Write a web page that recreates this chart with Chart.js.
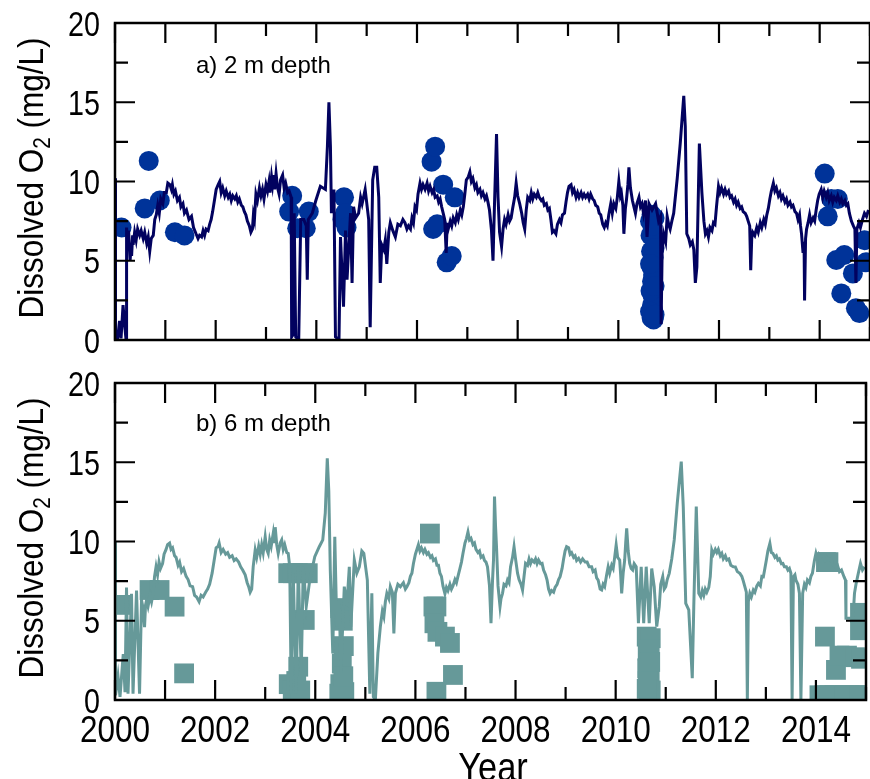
<!DOCTYPE html>
<html>
<head>
<meta charset="utf-8">
<script src="https://cdn.jsdelivr.net/npm/chart.js@4.4.1/dist/chart.umd.min.js"></script>
<style>
html, body { margin: 0; padding: 0; background: #fff; overflow: hidden; width: 870px; height: 779px; }
#top { position: absolute; left: 0; top: 0; }
#bot { position: absolute; left: 0; top: 360px; }
</style>
</head>
<body>
<canvas id="top" width="880" height="360"></canvas>
<canvas id="bot" width="880" height="419"></canvas>
<script>
const xTicks = [2000, 2002, 2004, 2006, 2008, 2010, 2012, 2014];
const yTicks = [0, 5, 10, 15, 20];

// 2 m depth, continuous record [year, mg/L]
const line2m = [
  [2000.00,10.2],[2000.01,0.3],[2000.05,0.0],[2000.09,1.2],[2000.12,0.1],[2000.16,2.2],[2000.19,1.0],[2000.22,0.0],
  [2000.23,7.1],[2000.25,5.8],[2000.27,6.9],[2000.30,5.0],[2000.32,5.9],[2000.33,5.3],[2000.35,6.6],[2000.36,6.0],
  [2000.39,6.8],[2000.42,6.3],[2000.45,7.0],[2000.49,6.6],[2000.52,6.9],[2000.56,6.4],[2000.59,6.8],[2000.63,6.1],
  [2000.66,6.5],[2000.69,5.6],[2000.72,6.4],[2000.76,6.6],[2000.79,7.6],[2000.82,7.9],[2000.85,8.5],[2000.88,8.0],
  [2000.91,8.9],[2000.95,8.6],[2000.98,9.3],[2001.02,9.3],[2001.05,9.9],[2001.09,9.8],[2001.12,9.5],[2001.14,9.8],
  [2001.17,9.2],[2001.20,9.4],[2001.24,8.8],[2001.28,9.0],[2001.31,8.4],[2001.35,8.6],[2001.38,8.0],[2001.42,8.2],
  [2001.47,7.6],[2001.52,7.8],[2001.56,7.1],[2001.61,6.7],[2001.65,6.4],[2001.68,6.6],[2001.72,6.5],[2001.75,6.9],
  [2001.78,6.6],[2001.81,7.0],[2001.85,6.9],[2001.88,7.3],[2001.91,7.6],[2001.94,8.1],[2001.98,8.9],[2002.01,9.5],
  [2002.05,9.8],[2002.08,10.0],[2002.11,9.3],[2002.14,9.6],[2002.18,9.1],[2002.21,9.4],[2002.25,9.0],[2002.28,9.2],
  [2002.31,8.8],[2002.34,9.1],[2002.38,8.9],[2002.41,9.1],[2002.44,8.7],[2002.47,8.9],[2002.51,8.5],[2002.54,8.4],
  [2002.57,8.1],[2002.60,7.9],[2002.63,7.5],[2002.67,7.2],[2002.70,6.8],[2002.73,7.0],[2002.75,7.9],[2002.77,7.6],
  [2002.80,9.2],[2002.83,8.8],[2002.87,9.6],[2002.90,9.1],[2002.93,9.5],[2002.96,8.9],[2003.00,9.8],[2003.03,9.4],
  [2003.06,10.0],[2003.08,9.3],[2003.11,10.3],[2003.13,9.8],[2003.15,10.4],[2003.17,9.5],[2003.20,10.5],[2003.23,9.6],
  [2003.26,9.2],[2003.29,10.1],[2003.33,10.4],[2003.36,9.6],[2003.39,9.9],[2003.43,9.3],[2003.46,9.4],[2003.50,9.0],
  [2003.51,0.2],[2003.53,0.3],[2003.56,8.0],[2003.59,0.2],[2003.65,0.0],[2003.69,7.6],[2003.75,7.6],[2003.80,7.2],
  [2003.82,3.8],[2003.84,7.6],[2003.92,8.0],[2003.99,8.8],[2004.08,9.7],[2004.18,9.5],[2004.22,12.2],[2004.25,15.0],
  [2004.28,12.2],[2004.30,8.0],[2004.35,9.5],[2004.38,0.2],[2004.45,0.0],[2004.48,6.5],[2004.54,2.1],[2004.58,6.9],
  [2004.61,3.8],[2004.68,8.0],[2004.71,3.6],[2004.74,8.4],[2004.78,7.7],[2004.84,8.0],[2004.88,9.0],[2004.91,8.6],
  [2004.97,9.5],[2005.04,7.6],[2005.07,0.8],[2005.12,10.1],[2005.16,10.9],[2005.20,10.9],[2005.24,9.0],[2005.27,3.6],
  [2005.30,6.0],[2005.34,5.7],[2005.37,6.3],[2005.40,4.8],[2005.44,6.8],[2005.47,7.4],[2005.52,6.9],[2005.57,6.5],
  [2005.62,7.3],[2005.67,7.2],[2005.72,7.6],[2005.76,7.4],[2005.80,7.0],[2005.83,7.2],[2005.87,7.0],[2005.90,7.7],
  [2005.93,7.4],[2005.96,8.4],[2005.99,8.2],[2006.02,9.2],[2006.06,9.9],[2006.09,9.5],[2006.12,9.8],[2006.16,9.5],
  [2006.20,9.9],[2006.23,9.4],[2006.26,9.7],[2006.30,9.3],[2006.33,9.5],[2006.36,9.0],[2006.40,9.1],[2006.43,8.7],
  [2006.46,8.9],[2006.49,8.4],[2006.52,8.0],[2006.55,7.6],[2006.58,5.5],[2006.60,7.4],[2006.62,7.0],[2006.66,7.5],
  [2006.69,7.2],[2006.72,7.7],[2006.76,7.4],[2006.79,7.9],[2006.82,7.6],[2006.86,8.2],[2006.89,7.9],[2006.92,8.4],
  [2006.95,9.2],[2006.98,10.1],[2007.02,10.3],[2007.05,10.6],[2007.08,10.0],[2007.11,10.2],[2007.15,9.6],[2007.18,9.8],
  [2007.21,9.3],[2007.25,9.5],[2007.28,9.1],[2007.31,9.3],[2007.35,8.9],[2007.38,9.1],[2007.41,8.7],[2007.44,8.2],
  [2007.48,6.9],[2007.51,5.0],[2007.54,8.6],[2007.58,13.0],[2007.61,9.0],[2007.64,6.8],[2007.68,5.9],[2007.71,7.0],
  [2007.74,7.6],[2007.77,7.3],[2007.81,7.9],[2007.84,7.5],[2007.87,7.7],[2007.90,8.3],[2007.94,9.0],[2007.97,9.9],
  [2008.00,9.1],[2008.04,8.6],[2008.08,8.0],[2008.11,7.4],[2008.14,7.0],[2008.17,8.2],[2008.20,9.0],[2008.24,8.8],
  [2008.27,9.3],[2008.30,8.9],[2008.33,9.2],[2008.37,9.0],[2008.40,9.3],[2008.43,9.0],[2008.47,8.8],[2008.50,8.9],
  [2008.53,8.5],[2008.57,8.6],[2008.60,8.2],[2008.63,8.3],[2008.66,7.6],[2008.69,6.8],[2008.72,6.9],[2008.76,6.7],
  [2008.79,7.3],[2008.83,7.6],[2008.86,7.4],[2008.89,7.9],[2008.93,8.0],[2008.96,8.7],[2008.99,9.3],[2009.02,9.7],
  [2009.06,9.8],[2009.09,9.3],[2009.12,9.5],[2009.16,9.0],[2009.19,9.3],[2009.22,9.0],[2009.26,9.3],[2009.29,9.0],
  [2009.32,9.2],[2009.35,9.0],[2009.39,9.2],[2009.42,8.9],[2009.45,9.2],[2009.49,8.9],[2009.52,8.8],[2009.55,8.5],
  [2009.59,8.4],[2009.62,8.0],[2009.65,7.9],[2009.69,7.3],[2009.72,7.1],[2009.75,7.4],[2009.78,7.2],[2009.81,7.9],
  [2009.85,8.6],[2009.88,8.0],[2009.91,8.6],[2009.95,8.3],[2009.98,9.0],[2010.01,10.0],[2010.04,9.1],[2010.06,9.3],
  [2010.09,8.5],[2010.11,6.7],[2010.14,8.3],[2010.16,8.8],[2010.19,9.8],[2010.21,10.9],[2010.24,9.6],[2010.28,8.8],
  [2010.31,8.4],[2010.34,8.0],[2010.37,8.6],[2010.41,9.0],[2010.44,8.4],[2010.47,8.6],[2010.50,8.0],[2010.54,8.8],
  [2010.57,6.5],[2010.61,8.6],[2010.67,8.2],[2010.74,8.6],[2010.80,7.5],[2010.84,7.8],[2010.85,1.0],[2010.87,5.5],
  [2010.90,6.7],[2010.94,6.2],[2010.97,7.8],[2011.00,7.3],[2011.03,7.0],[2011.07,7.6],[2011.10,8.0],[2011.17,10.2],
  [2011.23,12.4],[2011.30,15.4],[2011.33,13.5],[2011.36,6.7],[2011.40,6.4],[2011.43,6.0],[2011.47,6.2],[2011.50,5.7],
  [2011.53,3.6],[2011.56,4.6],[2011.61,12.4],[2011.66,9.3],[2011.70,7.5],[2011.73,6.7],[2011.76,6.9],[2011.79,6.5],
  [2011.82,7.1],[2011.86,6.9],[2011.89,7.4],[2011.92,7.3],[2011.95,8.4],[2011.99,9.7],[2012.02,9.3],[2012.05,9.6],
  [2012.09,9.2],[2012.12,9.5],[2012.15,9.2],[2012.19,9.4],[2012.22,9.0],[2012.25,9.1],[2012.29,8.7],[2012.32,8.9],
  [2012.35,8.5],[2012.38,8.7],[2012.42,8.3],[2012.45,8.4],[2012.48,8.1],[2012.52,8.0],[2012.55,7.8],[2012.58,7.5],
  [2012.61,7.2],[2012.63,4.4],[2012.65,6.4],[2012.67,6.8],[2012.71,6.6],[2012.75,7.1],[2012.78,6.8],[2012.82,7.4],
  [2012.85,7.1],[2012.89,7.6],[2012.92,7.3],[2012.95,7.9],[2012.98,8.3],[2013.01,8.9],[2013.04,9.4],[2013.08,9.9],
  [2013.11,9.4],[2013.14,9.6],[2013.18,9.1],[2013.21,9.3],[2013.24,8.9],[2013.27,9.1],[2013.31,8.7],[2013.34,8.9],
  [2013.37,8.5],[2013.41,8.7],[2013.44,8.4],[2013.47,8.5],[2013.51,8.1],[2013.54,8.0],[2013.57,7.6],[2013.60,7.9],
  [2013.62,7.2],[2013.64,6.7],[2013.67,5.5],[2013.69,6.2],[2013.70,2.5],[2013.72,6.4],[2013.74,7.0],[2013.77,7.4],
  [2013.80,7.9],[2013.83,7.4],[2013.87,7.7],[2013.90,7.5],[2013.93,8.2],[2013.96,8.8],[2013.99,9.2],[2014.03,9.5],
  [2014.06,9.0],[2014.09,9.4],[2014.13,9.0],[2014.16,9.3],[2014.19,8.8],[2014.23,9.1],[2014.26,8.7],[2014.29,9.0],
  [2014.33,8.8],[2014.36,9.1],[2014.40,8.7],[2014.43,8.9],[2014.46,8.6],[2014.50,8.8],[2014.53,8.5],[2014.56,8.6],
  [2014.59,8.0],[2014.63,7.5],[2014.67,7.2],[2014.70,7.0],[2014.72,3.6],[2014.74,7.0],[2014.78,7.4],[2014.81,7.1],
  [2014.85,7.6],[2014.89,8.0],[2014.93,7.8],[2014.97,8.2]
];

// 2 m depth, discrete profile samples
const circles2m = [
  [2000.13,7.1],[2000.59,8.3],[2000.67,11.3],[2000.89,8.8],[2001.19,6.8],[2001.38,6.6],
  [2003.46,8.1],[2003.52,9.1],[2003.62,7.05],[2003.79,7.05],[2003.85,8.1],
  [2004.52,7.6],[2004.55,9.0],[2004.57,8.0],[2004.60,7.1],
  [2006.29,11.25],[2006.36,12.2],[2006.32,7.0],[2006.40,7.3],[2006.52,9.8],[2006.75,9.0],[2006.59,4.9],[2006.69,5.3],
  [2010.63,7.5],[2010.64,6.6],[2010.65,5.6],[2010.66,4.6],[2010.67,3.7],[2010.68,2.8],[2010.69,1.9],[2010.70,1.3],
  [2010.72,7.7],[2010.71,6.4],[2010.70,5.2],[2010.69,4.1],[2010.67,2.2],[2010.66,1.4],[2010.64,3.1],[2010.63,1.8],
  [2010.66,7.9],[2010.72,3.4],[2010.72,5.8],[2010.63,4.8],[2010.72,1.6],[2010.68,7.2],
  [2014.10,10.5],[2014.16,7.8],[2014.23,8.9],[2014.36,8.9],[2014.33,5.05],[2014.49,5.36],[2014.43,2.94],
  [2014.66,4.2],[2014.72,2.0],[2014.79,1.7],[2014.89,6.3],[2014.92,4.9]
];

// 6 m depth, continuous record
const line6m = [
  [2000.00,10.0],[2000.01,0.3],[2000.06,1.5],[2000.10,0.2],[2000.165,2.9],[2000.20,0.5],[2000.23,7.1],[2000.26,0.4],
  [2000.33,6.7],[2000.36,0.4],[2000.43,6.9],[2000.49,0.4],[2000.53,6.3],[2000.56,5.8],[2000.59,4.6],[2000.61,6.0],
  [2000.63,6.3],[2000.66,5.9],[2000.70,6.6],[2000.73,6.2],[2000.76,6.7],[2000.79,7.8],[2000.82,8.4],[2000.85,7.9],
  [2000.88,8.7],[2000.91,8.3],[2000.95,8.6],[2000.98,9.2],[2001.02,9.5],[2001.05,9.8],[2001.09,9.9],[2001.12,9.5],
  [2001.15,9.6],[2001.19,9.1],[2001.22,9.0],[2001.26,8.5],[2001.29,8.7],[2001.33,8.1],[2001.37,8.3],[2001.42,7.8],
  [2001.46,7.6],[2001.50,7.2],[2001.55,7.15],[2001.59,6.6],[2001.63,6.5],[2001.68,6.2],[2001.72,6.6],[2001.76,6.5],
  [2001.81,6.8],[2001.85,7.0],[2001.89,7.3],[2001.94,8.0],[2001.98,8.8],[2002.02,9.6],[2002.06,9.7],[2002.08,9.9],
  [2002.12,9.3],[2002.16,9.5],[2002.21,9.2],[2002.25,9.3],[2002.29,9.0],[2002.34,9.1],[2002.38,8.8],[2002.42,8.9],
  [2002.47,8.7],[2002.51,8.4],[2002.55,8.2],[2002.60,7.9],[2002.64,7.4],[2002.67,7.15],[2002.70,6.8],[2002.73,7.0],
  [2002.76,8.4],[2002.80,9.46],[2002.83,9.0],[2002.87,9.7],[2002.90,9.2],[2002.93,9.8],[2002.96,9.3],[2003.00,10.3],
  [2003.03,9.5],[2003.06,9.25],[2003.09,10.1],[2003.12,9.7],[2003.16,10.5],[2003.18,9.9],[2003.20,10.9],[2003.23,9.8],
  [2003.26,9.25],[2003.30,9.9],[2003.33,10.1],[2003.36,9.5],[2003.39,9.8],[2003.43,9.3],[2003.46,9.25],[2003.49,8.4],
  [2003.52,0.4],[2003.56,8.0],[2003.62,0.4],[2003.66,8.4],[2003.72,1.7],[2003.76,8.4],[2003.82,5.9],[2003.89,7.57],
  [2003.99,9.04],[2004.08,9.67],[2004.15,10.1],[2004.20,11.8],[2004.24,15.25],[2004.27,13.2],[2004.30,8.2],[2004.35,2.94],
  [2004.39,10.3],[2004.43,4.63],[2004.48,6.3],[2004.51,1.7],[2004.58,7.15],[2004.63,5.9],[2004.68,8.4],[2004.71,4.63],
  [2004.78,8.83],[2004.83,8.0],[2004.88,8.4],[2004.93,9.4],[2004.97,9.25],[2005.04,7.57],[2005.09,0.4],[2005.13,6.73],
  [2005.16,0.2],[2005.20,0.0],[2005.25,2.94],[2005.30,4.63],[2005.34,5.6],[2005.37,5.26],[2005.40,6.2],[2005.43,6.73],
  [2005.47,6.4],[2005.50,7.15],[2005.54,6.8],[2005.57,4.2],[2005.60,6.73],[2005.65,7.3],[2005.70,7.15],[2005.76,7.4],
  [2005.80,7.0],[2005.83,7.15],[2005.87,7.4],[2005.90,7.8],[2005.93,8.0],[2005.96,8.6],[2006.00,9.2],[2006.03,9.5],
  [2006.06,9.8],[2006.09,9.4],[2006.12,9.6],[2006.16,9.3],[2006.19,9.5],[2006.23,9.2],[2006.26,9.3],[2006.30,9.0],
  [2006.33,9.1],[2006.36,8.8],[2006.40,8.9],[2006.43,8.5],[2006.46,8.5],[2006.49,8.0],[2006.52,7.8],[2006.55,7.2],
  [2006.59,6.7],[2006.62,7.1],[2006.65,6.9],[2006.69,7.3],[2006.72,7.0],[2006.75,7.2],[2006.79,7.6],[2006.82,7.4],
  [2006.85,7.8],[2006.89,8.3],[2006.92,8.7],[2006.95,9.25],[2006.99,9.9],[2007.02,10.2],[2007.05,10.6],[2007.08,10.1],
  [2007.11,10.2],[2007.15,9.8],[2007.18,9.9],[2007.21,9.5],[2007.25,9.3],[2007.28,9.4],[2007.31,9.0],[2007.35,9.1],
  [2007.38,8.8],[2007.41,8.7],[2007.44,8.4],[2007.48,7.2],[2007.51,4.84],[2007.54,7.5],[2007.56,8.83],[2007.58,12.83],
  [2007.60,11.0],[2007.62,9.67],[2007.65,7.2],[2007.69,5.9],[2007.71,6.4],[2007.74,6.73],[2007.77,7.3],[2007.81,7.2],
  [2007.84,7.57],[2007.87,7.4],[2007.90,8.4],[2007.94,9.0],[2007.97,9.67],[2008.00,8.9],[2008.04,8.0],[2008.07,7.6],
  [2008.11,7.3],[2008.14,6.94],[2008.17,7.8],[2008.20,8.62],[2008.24,8.5],[2008.27,8.9],[2008.30,8.6],[2008.33,8.83],
  [2008.37,8.7],[2008.40,8.9],[2008.43,8.6],[2008.46,8.83],[2008.50,8.6],[2008.53,8.62],[2008.56,8.2],[2008.60,7.9],
  [2008.63,7.57],[2008.66,7.0],[2008.69,6.73],[2008.72,6.9],[2008.76,6.8],[2008.79,7.1],[2008.83,7.3],[2008.86,7.6],
  [2008.89,7.78],[2008.93,8.3],[2008.96,8.9],[2008.99,9.4],[2009.02,9.67],[2009.06,9.6],[2009.09,9.2],[2009.12,9.3],
  [2009.16,9.0],[2009.19,9.1],[2009.22,8.8],[2009.26,8.94],[2009.30,8.7],[2009.34,8.9],[2009.39,8.7],[2009.43,8.7],
  [2009.47,8.4],[2009.52,8.4],[2009.55,8.1],[2009.59,8.2],[2009.62,7.7],[2009.65,7.57],[2009.69,7.0],[2009.72,6.94],
  [2009.75,7.3],[2009.78,7.15],[2009.82,7.9],[2009.85,8.4],[2009.88,8.0],[2009.92,8.5],[2009.95,8.3],[2009.98,9.0],
  [2010.01,9.78],[2010.04,9.0],[2010.08,8.83],[2010.10,7.9],[2010.12,6.73],[2010.15,8.0],[2010.18,8.83],[2010.20,9.9],
  [2010.22,10.83],[2010.25,9.4],[2010.28,8.62],[2010.31,8.3],[2010.34,8.2],[2010.37,8.6],[2010.41,8.41],[2010.455,4.84],
  [2010.51,8.41],[2010.56,4.84],[2010.61,8.41],[2010.67,4.84],[2010.72,8.3],[2010.77,7.15],[2010.82,4.63],[2010.87,5.89],
  [2010.90,7.3],[2010.94,7.78],[2010.97,7.0],[2011.00,7.15],[2011.03,7.6],[2011.07,7.99],[2011.12,8.9],[2011.17,10.1],
  [2011.23,12.4],[2011.31,15.04],[2011.35,12.2],[2011.40,6.1],[2011.46,5.68],[2011.53,1.37],[2011.56,5.89],[2011.61,12.2],
  [2011.66,6.73],[2011.70,6.5],[2011.73,6.9],[2011.76,6.6],[2011.79,7.0],[2011.82,6.8],[2011.86,7.1],[2011.89,7.8],
  [2011.92,9.46],[2011.95,9.2],[2011.99,9.5],[2012.02,9.3],[2012.05,9.5],[2012.09,9.1],[2012.12,9.25],[2012.15,8.9],
  [2012.19,9.1],[2012.22,8.83],[2012.26,8.9],[2012.30,8.5],[2012.35,8.41],[2012.39,8.4],[2012.43,8.1],[2012.48,7.99],
  [2012.52,7.8],[2012.55,7.5],[2012.58,7.15],[2012.61,6.8],[2012.63,0.0],[2012.65,6.2],[2012.68,6.73],[2012.71,6.5],
  [2012.75,6.94],[2012.78,6.8],[2012.82,7.2],[2012.85,7.36],[2012.89,7.2],[2012.92,7.8],[2012.95,7.78],[2012.98,8.3],
  [2013.01,8.83],[2013.04,9.4],[2013.08,9.88],[2013.11,9.3],[2013.14,9.25],[2013.18,9.0],[2013.21,9.1],[2013.24,8.83],
  [2013.27,8.9],[2013.31,8.6],[2013.34,8.62],[2013.37,8.4],[2013.41,8.4],[2013.44,8.2],[2013.47,8.3],[2013.50,8.0],
  [2013.524,0.0],[2013.55,7.78],[2013.58,7.9],[2013.60,7.57],[2013.64,7.3],[2013.67,6.73],[2013.70,0.0],[2013.735,6.73],
  [2013.77,7.3],[2013.80,7.1],[2013.83,7.57],[2013.87,7.4],[2013.90,7.8],[2013.93,8.0],[2013.97,8.8],[2014.00,9.25],
  [2014.03,8.9],[2014.06,9.2],[2014.10,9.04],[2014.14,9.1],[2014.18,8.8],[2014.22,9.0],[2014.26,8.83],[2014.30,8.9],
  [2014.34,8.5],[2014.39,8.4],[2014.43,8.5],[2014.47,8.1],[2014.51,8.2],[2014.56,7.78],[2014.59,7.57],[2014.60,5.15],
  [2014.74,5.15],[2014.77,6.73],[2014.80,7.3],[2014.84,7.9],[2014.89,8.62],[2014.93,8.2],[2014.97,8.4]
];

// 6 m depth, discrete profile samples
const squares6m = [
  [2000.13,6.0],[2000.69,6.94],[2000.89,6.94],[2001.19,5.89],[2001.38,1.68],
  [2003.46,8.0],[2003.55,8.0],[2003.65,8.0],[2003.75,8.0],[2003.85,8.0],[2003.79,5.05],
  [2003.47,1.0],[2003.55,0.6],[2003.66,2.1],[2003.70,0.6],[2003.62,1.2],
  [2004.50,5.8],[2004.55,5.0],[2004.57,3.4],[2004.53,2.3],[2004.50,1.0],[2004.58,0.5],[2004.48,0.4],[2004.56,1.5],
  [2006.29,10.5],[2006.36,5.9],[2006.42,5.9],[2006.38,4.84],[2006.44,4.3],[2006.59,4.0],[2006.69,3.6],[2006.75,1.58],[2006.42,0.52],
  [2010.62,4.0],[2010.64,3.1],[2010.66,2.3],[2010.68,1.4],[2010.70,0.6],[2010.70,3.9],[2010.68,3.2],[2010.66,0.6],
  [2010.64,1.2],[2010.62,0.7],[2010.63,2.0],[2010.69,2.4],
  [2014.20,8.7],[2014.25,8.7],[2014.18,4.0],[2014.40,1.9],[2014.47,2.8],[2014.62,2.8],[2014.78,2.7],[2014.90,2.6],
  [2014.88,5.5],[2014.88,4.4],
  [2014.07,0.3],[2014.17,0.3],[2014.27,0.3],[2014.37,0.3],[2014.47,0.3],[2014.57,0.3],[2014.67,0.3],[2014.77,0.3],
  [2014.87,0.3],[2014.97,0.3]
];

const FONT = '"Liberation Sans", Arial, sans-serif';

// condensed text, the reference type is narrower than Arial
function squeezed(ctx, text, x, y, size, sx, align, base) {
  ctx.save();
  ctx.font = size + 'px ' + FONT;
  ctx.textAlign = align;
  ctx.textBaseline = base;
  ctx.translate(x, y);
  ctx.scale(sx, 1);
  ctx.fillText(text, 0, 0);
  ctx.restore();
}

// box, inward tick marks, tick labels, titles
const frame = {
  id: 'frame',
  afterDraw(chart, args, opts) {
    const {ctx, chartArea: a, scales: {x, y}} = chart;
    ctx.save();
    ctx.strokeStyle = '#000';
    ctx.lineWidth = 2.5;
    ctx.strokeRect(a.left, a.top, a.right - a.left, a.bottom - a.top);
    ctx.lineWidth = 2.2;
    ctx.beginPath();
    for (let yr = 2000; yr <= 2015; yr++) {
      const px = x.getPixelForValue(yr);
      const len = (yr % 2 === 0 || yr === 2001) ? 20 : 13;
      ctx.moveTo(px, a.top); ctx.lineTo(px, a.top + len);
      ctx.moveTo(px, a.bottom); ctx.lineTo(px, a.bottom - len);
    }
    for (let v = 0; v <= 20; v += 2.5) {
      const py = y.getPixelForValue(v);
      const len = v % 5 === 0 ? 20 : 13;
      ctx.moveTo(a.left, py); ctx.lineTo(a.left + len, py);
      ctx.moveTo(a.right, py); ctx.lineTo(a.right - len, py);
    }
    ctx.stroke();

    ctx.fillStyle = '#000';
    yTicks.forEach(v => squeezed(ctx, String(v), 100, y.getPixelForValue(v) + 12.5, 35, 0.82, 'right', 'alphabetic'));
    if (opts.showX) {
      xTicks.forEach(v => squeezed(ctx, String(v), x.getPixelForValue(v), a.bottom + 42, 37.5, 0.84, 'center', 'alphabetic'));
      squeezed(ctx, opts.xTitle, 493, 421, 41, 0.84, 'center', 'alphabetic');
    }

    ctx.font = '24px ' + FONT;
    ctx.textAlign = 'left';
    ctx.textBaseline = 'alphabetic';
    ctx.fillText(opts.label, 196, opts.labelY);

    // y title with subscript
    const sx = 0.9;
    const big = '35px ' + FONT, small = '23px ' + FONT;
    ctx.font = big;
    const w1 = ctx.measureText('Dissolved O').width;
    const w3 = ctx.measureText(' (mg/L)').width;
    ctx.font = small;
    const w2 = ctx.measureText('2').width;
    const start = -(w1 + w2 + w3) / 2;
    ctx.translate(43, 178);
    ctx.rotate(-Math.PI / 2);
    ctx.scale(sx, 1);
    ctx.font = big;
    ctx.fillText('Dissolved O', start, 0);
    ctx.font = small;
    ctx.fillText('2', start + w1, 7);
    ctx.font = big;
    ctx.fillText(' (mg/L)', start + w1 + w2, 0);
    ctx.restore();
  }
};

function makeOptions(panel) {
  return {
    responsive: false,
    animation: false,
    events: [],
    layout: { padding: { top: 23, right: 5, left: 0, bottom: 0 } },
    plugins: {
      legend: { display: false },
      tooltip: { enabled: false },
      frame: panel
    },
    scales: {
      x: {
        type: 'linear',
        min: 2000,
        max: 2015,
        afterBuildTicks: s => { s.ticks = xTicks.map(v => ({ value: v })); },
        ticks: { display: false },
        grid: { display: false, drawTicks: false },
        border: { display: false },
        afterFit: s => { s.height = panel.xHeight; s.paddingLeft = 0; s.paddingRight = 0; }
      },
      y: {
        min: 0,
        max: 20,
        afterBuildTicks: s => { s.ticks = yTicks.map(v => ({ value: v })); },
        ticks: { display: false },
        grid: { display: false, drawTicks: false },
        border: { display: false },
        afterFit: s => { s.width = 115; s.paddingTop = 0; s.paddingBottom = 0; }
      }
    }
  };
}

new Chart(document.getElementById('top'), {
  type: 'line',
  data: {
    datasets: [
      { type: 'line', data: line2m, borderColor: '#02025f', borderWidth: 3, pointRadius: 0, tension: 0, order: 0 },
      { type: 'scatter', data: circles2m, backgroundColor: '#003399', borderWidth: 0, pointRadius: 10, order: 1 }
    ]
  },
  options: makeOptions({ label: 'a) 2 m depth', labelY: 73, showX: false, xHeight: 20 }),
  plugins: [frame]
});

new Chart(document.getElementById('bot'), {
  type: 'line',
  data: {
    datasets: [
      { type: 'line', data: line6m, borderColor: '#669999', borderWidth: 3, pointRadius: 0, tension: 0, order: 0 },
      { type: 'scatter', data: squares6m, backgroundColor: '#669999', borderWidth: 0, pointStyle: 'rect', pointRadius: 14, order: 1 }
    ]
  },
  options: makeOptions({ label: 'b) 6 m depth', labelY: 71, showX: true, xTitle: 'Year', xHeight: 79 }),
  plugins: [frame]
});
</script>
</body>
</html>
